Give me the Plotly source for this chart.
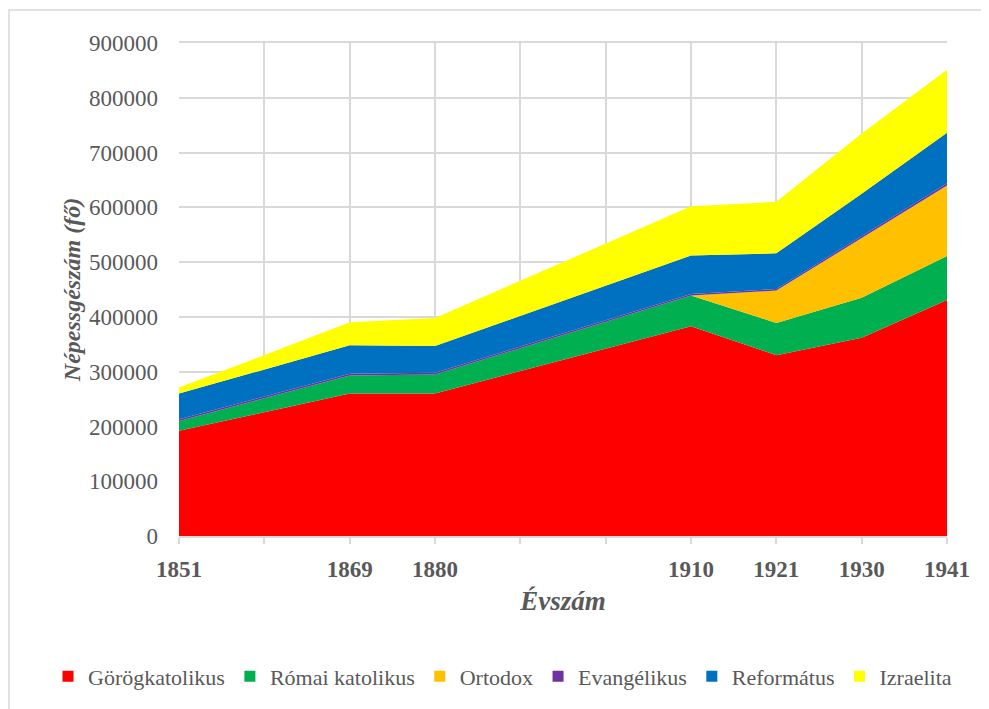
import plotly.graph_objects as go

# Category axis: labelled census years plus unlabelled gap categories (as in the original)
axis_categories = ["1851", " ", "1869", "1880", "  ", "   ", "1910", "1921", "1930", "1941"]
years = ["1851", "1869", "1880", "1910", "1921", "1930", "1941"]

gorogkatolikus = [192000, 260000, 260000, 383000, 330000, 362000, 431000]
romai_katolikus = [18000, 33000, 35000, 56000, 59000, 73000, 80000]
ortodox = [0, 0, 0, 0, 59000, 109000, 129000]
evangelikus = [3000, 3000, 3000, 3000, 3000, 3000, 4000]
reformatus = [47000, 52000, 49000, 70000, 65000, 78000, 92000]
izraelita = [11000, 42000, 51000, 90000, 94000, 110000, 115000]

series = [
    ("Görögkatolikus", gorogkatolikus, "#FF0000"),
    ("Római katolikus", romai_katolikus, "#00B050"),
    ("Ortodox", ortodox, "#FFC000"),
    ("Evangélikus", evangelikus, "#7030A0"),
    ("Református", reformatus, "#0070C0"),
    ("Izraelita", izraelita, "#FFFF00"),
]

SERIF = "Liberation Serif"
grey = "#595959"

fig = go.Figure()
for name, vals, col in series:
    fig.add_trace(go.Scatter(
        x=years, y=vals, name=name, mode="lines",
        stackgroup="one", line=dict(width=0, color=col),
        fillcolor=col, legendgroup=name, showlegend=False,
    ))
# legend entries with square keys
for name, vals, col in series:
    fig.add_trace(go.Scatter(
        x=[None], y=[None], name=name, mode="markers",
        marker=dict(symbol="square", size=11, color=col),
        legendgroup=name, showlegend=True,
    ))

W, H = 989, 709
L, R, T, B = 171, 50, 35, 181
pw, ph = W - L - R, H - T - B
fig.update_layout(
    width=W, height=H,
    margin=dict(l=L, r=R, t=T, b=B),
    paper_bgcolor="white", plot_bgcolor="white",
    font=dict(family=SERIF, color=grey, size=22),
    showlegend=True,
    legend=dict(orientation="h", x=(40 - L) / pw, xanchor="left", y=-0.285, yanchor="middle",
                font=dict(family=SERIF, size=22, color=grey), traceorder="normal",
                itemwidth=30, tracegroupgap=0, bgcolor="rgba(0,0,0,0)"),
    xaxis=dict(
        type="category", categoryorder="array", categoryarray=axis_categories,
        range=[0, 9], showgrid=True, gridcolor="#d9d9d9", gridwidth=1.5,
        ticks="outside", ticklen=6, tickcolor="#d9d9d9", tickwidth=1.5,
        tickfont=dict(size=23, color=grey, family=SERIF, weight="bold"),
        ticklabelstandoff=6,
        title=dict(text="<b><i>Évszám</i></b>", font=dict(family=SERIF, size=27, color=grey), standoff=10),
        showline=True, linecolor="#d9d9d9", linewidth=1.5, mirror=True, zeroline=False,
    ),
    yaxis=dict(
        range=[0, 900000], dtick=100000, tickformat="d",
        showgrid=True, gridcolor="#d9d9d9", gridwidth=1.5,
        tickfont=dict(family=SERIF, size=23, color=grey),
        title=dict(text="<b><i>Népessgészám (fő)</i></b>", font=dict(family=SERIF, size=24, color=grey), standoff=1),
        showline=False, zeroline=False, ticks="", ticklabelstandoff=20,
    ),
)

# light grey chart-area border
fig.add_shape(type="rect", xref="paper", yref="paper",
              x0=(1 - L) / pw, x1=(977 - L) / pw,
              y0=(H - B - 712) / ph, y1=(H - B - 2) / ph,
              line=dict(color="#d9d9d9", width=1.5), layer="below")

fig.write_html("out.html")
